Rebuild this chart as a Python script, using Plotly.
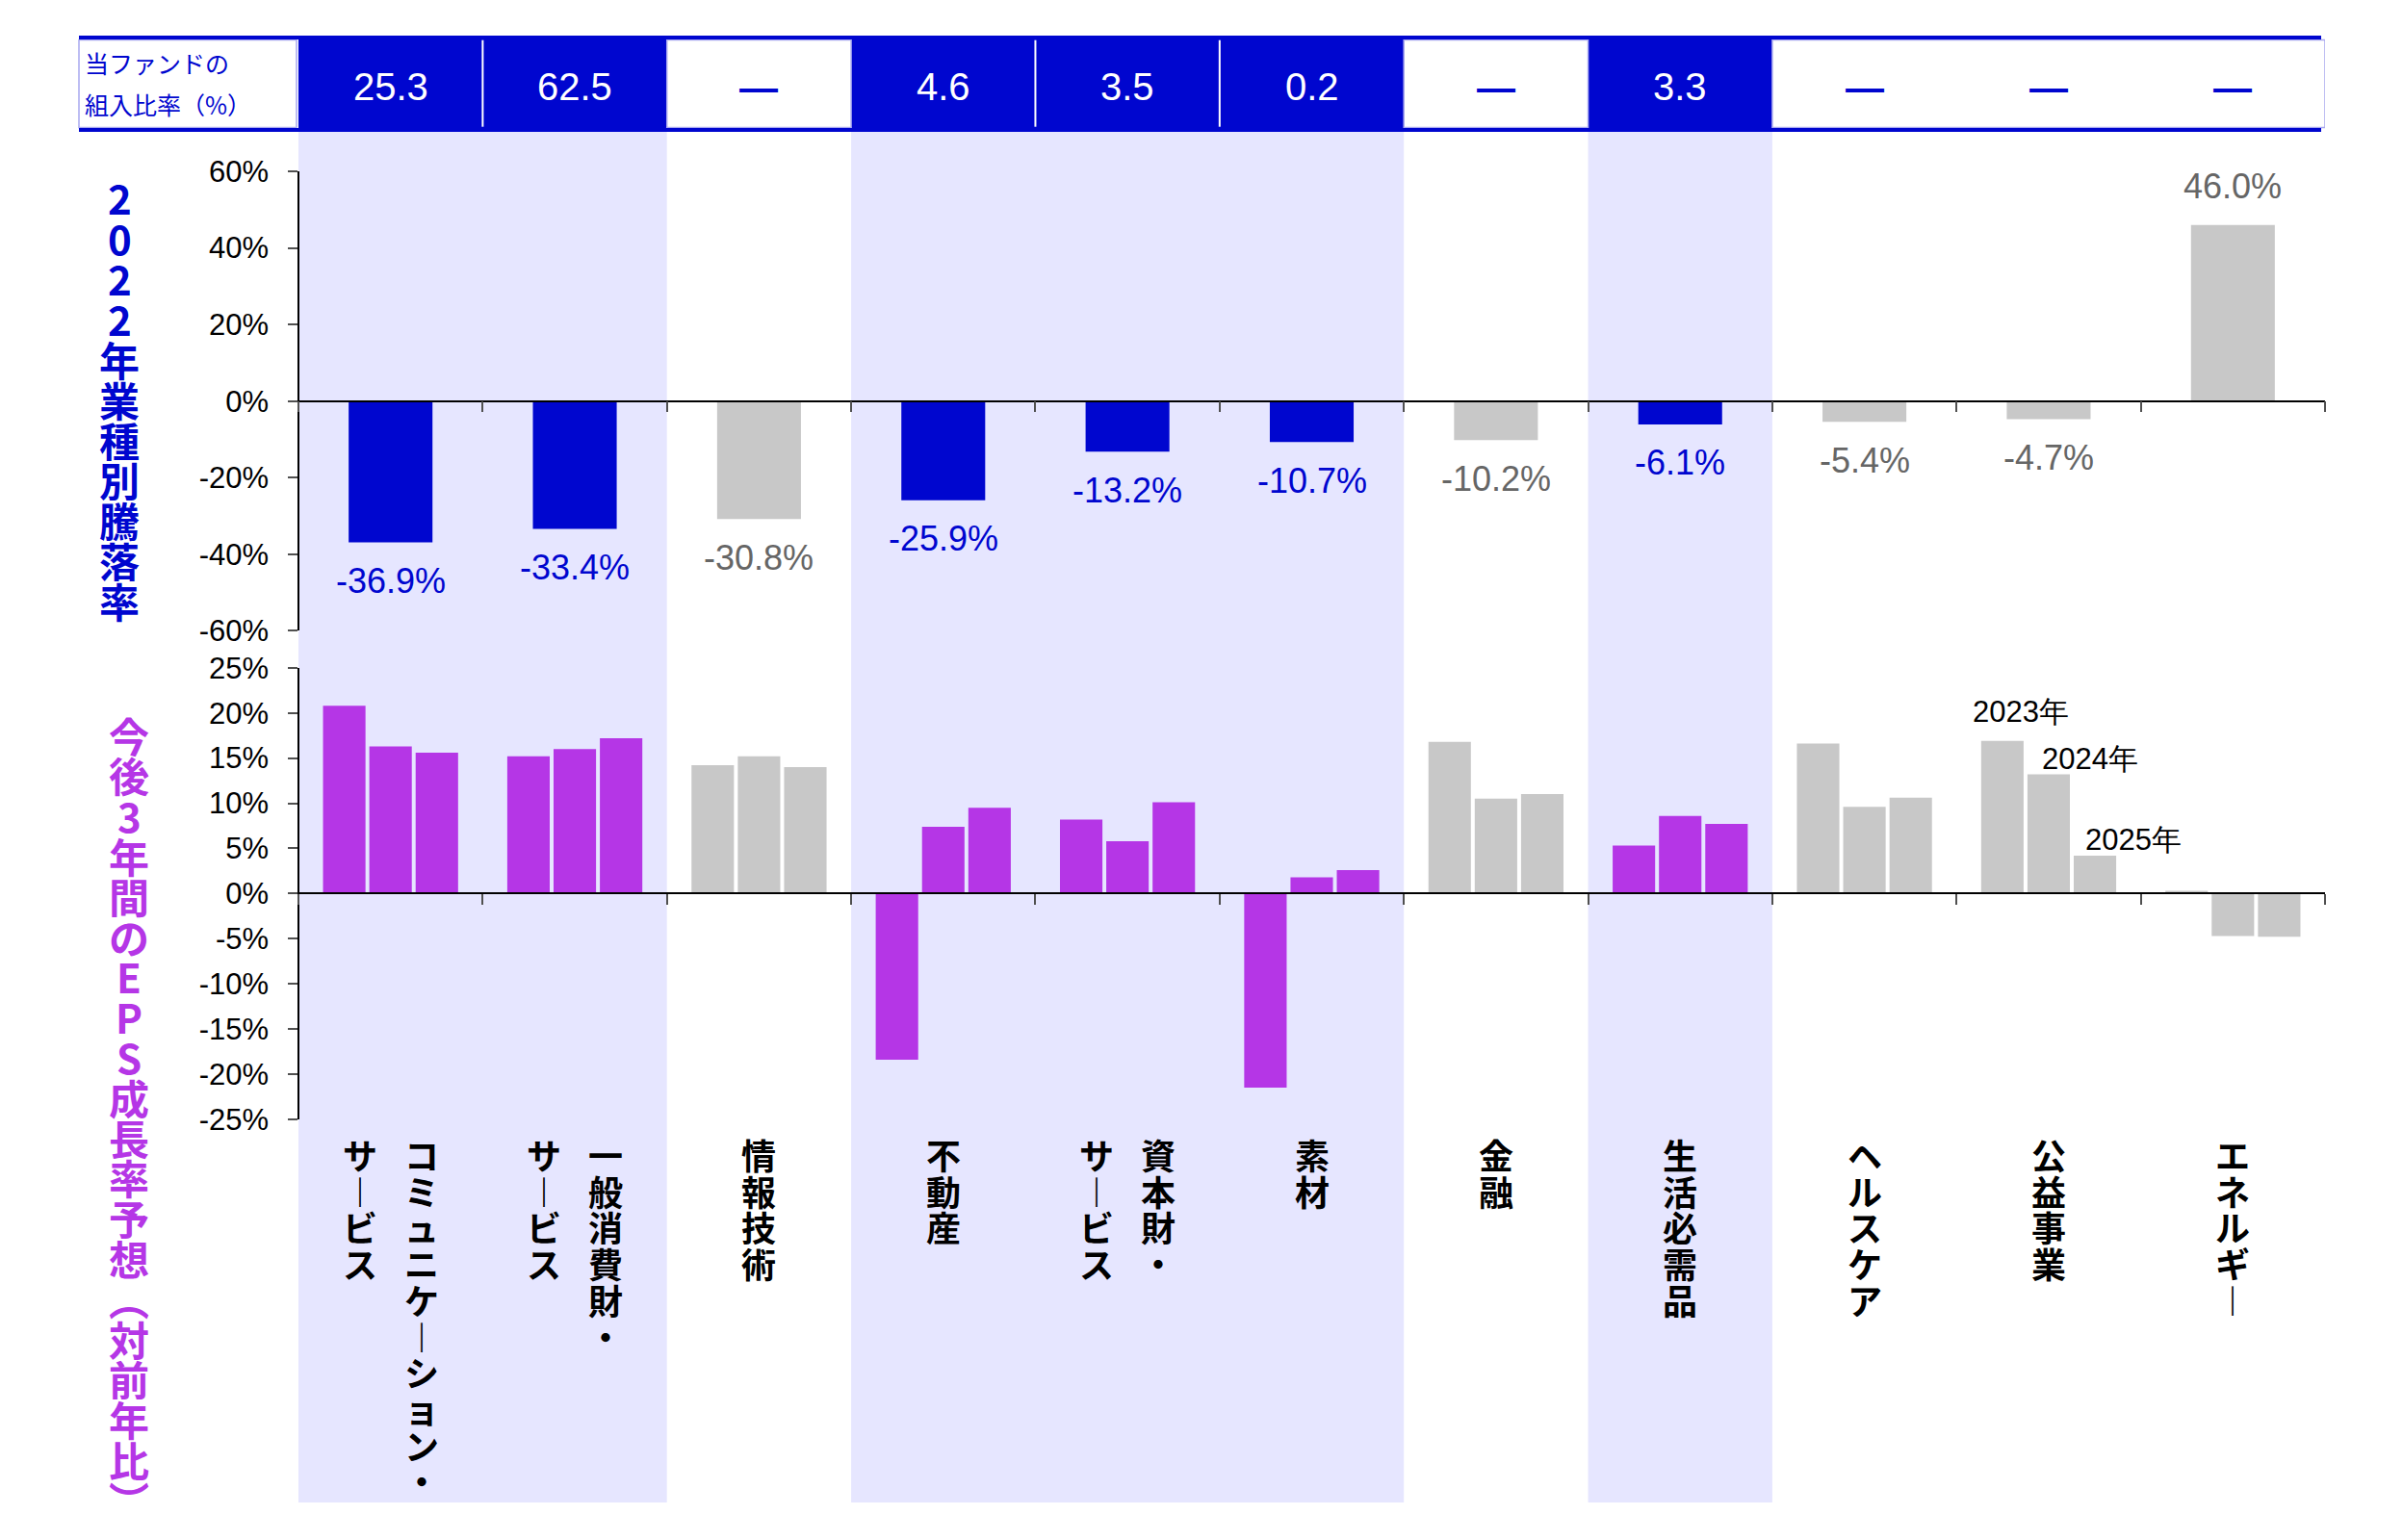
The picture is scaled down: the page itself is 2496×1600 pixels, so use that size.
import plotly.graph_objects as go

# ---------------- data ----------------
categories = ["コミュニケーション・サービス", "一般消費財・サービス", "情報技術", "不動産",
              "資本財・サービス", "素材", "金融", "生活必需品", "ヘルスケア", "公益事業", "エネルギー"]
label_columns = [["コミュニケーション・", "サービス"], ["一般消費財・", "サービス"], ["情報技術"], ["不動産"],
                 ["資本財・", "サービス"], ["素材"], ["金融"], ["生活必需品"], ["ヘルスケア"], ["公益事業"], ["エネルギー"]]
fund_weight = [25.3, 62.5, None, 4.6, 3.5, 0.2, None, 3.3, None, None, None]
return_2022 = [-36.9, -33.4, -30.8, -25.9, -13.2, -10.7, -10.2, -6.1, -5.4, -4.7, 46.0]
eps_2023 = [20.8, 15.2, 14.2, -18.4, 8.2, -21.5, 16.8, 5.3, 16.6, 16.9, 0.3]
eps_2024 = [16.3, 16.0, 15.2, 7.4, 5.8, 1.8, 10.5, 8.6, 9.6, 13.2, -4.7]
eps_2025 = [15.6, 17.2, 14.0, 9.5, 10.1, 2.6, 11.0, 7.7, 10.6, 4.2, -4.8]
years = ["2023年", "2024年", "2025年"]
year_label_category = "公益事業"
header_label = ["当ファンドの", "組入比率（%）"]
title_top = "2022年業種別騰落率"
title_bottom = "今後3年間のEPS成長率予想（対前年比）"
top_tickvals = [60, 40, 20, 0, -20, -40, -60]
top_ticktext = ["60%", "40%", "20%", "0%", "-20%", "-40%", "-60%"]
bot_tickvals = [25, 20, 15, 10, 5, 0, -5, -10, -15, -20, -25]
bot_ticktext = ["25%", "20%", "15%", "10%", "5%", "0%", "-5%", "-10%", "-15%", "-20%", "-25%"]

# ---------------- style ----------------
OFF = 8                      # page body margin
FW, FH = 2496 - 2 * OFF, 1600 - 2 * OFF
L, R = 310 - OFF, 2415 - OFF
BLUE = "#0006CF"
PURPLE = "#B536E6"
GRAY = "#C8C8C8"
GRAYTXT = "#666666"
LAV = "#E6E6FF"
CELLEDGE = "#A8A8F0"
NUMFONT = "Arial, Liberation Sans, sans-serif"
JPFONT = "Noto Sans CJK JP, sans-serif"


def py(yscreen):
    return 1 - (yscreen - OFF) / FH


def pxx(xscreen):
    return (xscreen - OFF - L) / (R - L)


held = [w is not None for w in fund_weight]
top_colors = [BLUE if h else GRAY for h in held]
bot_colors = [PURPLE if h else GRAY for h in held]

top_dom = [py(655.4), py(178)]
bot_dom = [py(1162.8), py(693.8)]

fig = go.Figure()
fig.add_trace(go.Bar(x=categories, y=return_2022, marker_color=top_colors, width=0.455,
                     marker_line_width=0, xaxis="x", yaxis="y", showlegend=False, hoverinfo="skip"))
for name, vals in zip(years, [eps_2023, eps_2024, eps_2025]):
    fig.add_trace(go.Bar(x=categories, y=vals, name=name, marker_color=bot_colors,
                         marker_line_width=0, xaxis="x2", yaxis="y2", showlegend=False, hoverinfo="skip"))

shapes = []
annotations = []


def runs(flags):
    out, start = [], None
    for i, f in enumerate(flags + [False]):
        if f and start is None:
            start = i
        if not f and start is not None:
            out.append((start, i - 1))
            start = None
    return out


for a, b in runs(held):
    shapes.append(dict(type="rect", xref="x", yref="paper", x0=a - 0.5, x1=b + 0.5,
                       y0=py(1561), y1=py(137), fillcolor=LAV, line_width=0, layer="below"))
    shapes.append(dict(type="rect", xref="x", yref="paper", x0=a - 0.5, x1=b + 0.5,
                       y0=py(137), y1=py(37), fillcolor=BLUE, line_width=0, layer="above"))
    for k in range(a, b):
        shapes.append(dict(type="line", xref="x", yref="paper", x0=k + 0.5, x1=k + 0.5,
                           y0=py(131.7), y1=py(41.7), line=dict(color="white", width=2), layer="above"))

# thin light edges of the white header cells
for a, b in runs([not h for h in held]):
    shapes.append(dict(type="rect", xref="x", yref="paper", x0=a - 0.5, x1=b + 0.5,
                       y0=py(132.5), y1=py(41.5), fillcolor="rgba(0,0,0,0)",
                       line=dict(color=CELLEDGE, width=1.5), layer="above"))
shapes.append(dict(type="rect", xref="paper", yref="paper", x0=pxx(82), x1=pxx(308),
                   y0=py(132.5), y1=py(41.5), fillcolor="rgba(0,0,0,0)",
                   line=dict(color=CELLEDGE, width=1.5), layer="above"))

# header horizontal lines
for y0, y1 in [(37, 41), (133, 137)]:
    shapes.append(dict(type="rect", xref="paper", yref="paper", x0=pxx(82), x1=pxx(2411),
                       y0=py(y1), y1=py(y0), fillcolor=BLUE, line_width=0, layer="above"))


def ann(**kw):
    d = dict(showarrow=False, xanchor="center", yanchor="middle")
    d.update(kw)
    annotations.append(d)


# header texts
for c, w in zip(categories, fund_weight):
    if w is None:
        ann(x=c, xref="x", y=py(91), yref="paper", text="<b>—</b>",
            font=dict(family=NUMFONT, size=40, color=BLUE))
    else:
        ann(x=c, xref="x", y=py(90), yref="paper", text=f"{w:.1f}",
            font=dict(family=NUMFONT, size=40, color="white"))
for t, yc in zip(header_label, [65, 108]):
    ann(x=pxx(86), xref="paper", xanchor="left", y=py(yc), yref="paper", text=t,
        font=dict(family=JPFONT, size=25, color=BLUE))

# top data labels
for c, v, h in zip(categories, return_2022, held):
    ann(x=c, xref="x", y=v, yref="y", text=f"{v:.1f}%", yshift=40 if v > 0 else -40,
        font=dict(family=NUMFONT, size=36, color=BLUE if h else GRAYTXT))

# year labels
yi = categories.index(year_label_category)
for name, vals, xs, ys in zip(years, [eps_2023, eps_2024, eps_2025], [-29, 43, 88], [30, 16, 16]):
    ann(x=year_label_category, xref="x2", y=vals[yi], yref="y2", text=name, xshift=xs, yshift=ys,
        font=dict(family=NUMFONT, size=31, color="black"))

VERT = {"（": "︵", "）": "︶", "ー": "︱"}

# vertical titles
for k, ch in enumerate(title_top):
    ann(x=pxx(124), xref="paper", y=py(205 + k * 41.85), yref="paper",
        text=f"<b>{VERT.get(ch, ch)}</b>", font=dict(family=JPFONT, size=42, color=BLUE))
for k, ch in enumerate(title_bottom):
    ann(x=pxx(134), xref="paper", y=py(763 + k * 41.8), yref="paper",
        text=f"<b>{VERT.get(ch, ch)}</b>", font=dict(family=JPFONT, size=42, color=PURPLE))

# category labels (vertical, right-to-left columns)
for c, cols in zip(categories, label_columns):
    n = len(cols)
    for k, col in enumerate(cols):
        xs = (n - 1) / 2 * 64 - k * 64
        for j, ch in enumerate(col):
            ann(x=c, xref="x2", xshift=xs, y=py(1199 + j * 37.7), yref="paper",
                text=f"<b>{VERT.get(ch, ch)}</b>", font=dict(family=JPFONT, size=36, color="black"))

xcommon = dict(type="category", range=[-0.5, len(categories) - 0.5], showline=True, linecolor="black",
               linewidth=1.5, ticks="outside", tickson="boundaries", ticklen=11, tickcolor="#505050",
               tickwidth=1.5, showticklabels=False, showgrid=False, zeroline=False, anchor="free",
               automargin=False, categoryorder="array", categoryarray=categories)
ycommon = dict(showline=True, linecolor="black", linewidth=1.5, ticks="outside", ticklen=10,
               tickcolor="#505050", tickwidth=1.5, showgrid=False, zeroline=False, automargin=False,
               tickfont=dict(family=NUMFONT, size=31, color="black"), ticklabelstandoff=14,
               anchor="free", position=0)

fig.update_layout(
    width=FW, height=FH,
    margin=dict(l=L, r=FW - R, t=0, b=0, pad=0, autoexpand=False),
    paper_bgcolor="white", plot_bgcolor="rgba(0,0,0,0)",
    barmode="group", bargap=0.246, bargroupgap=0.083,
    xaxis=dict(xcommon, domain=[0, 1], position=(top_dom[0] + top_dom[1]) / 2),
    xaxis2=dict(xcommon, domain=[0, 1], position=(bot_dom[0] + bot_dom[1]) / 2),
    yaxis=dict(ycommon, domain=top_dom, range=[-60, 60], tickvals=top_tickvals, ticktext=top_ticktext),
    yaxis2=dict(ycommon, domain=bot_dom, range=[-25, 25], tickvals=bot_tickvals, ticktext=bot_ticktext),
    shapes=shapes, annotations=annotations, showlegend=False,
)

fig.write_html("out.html")
